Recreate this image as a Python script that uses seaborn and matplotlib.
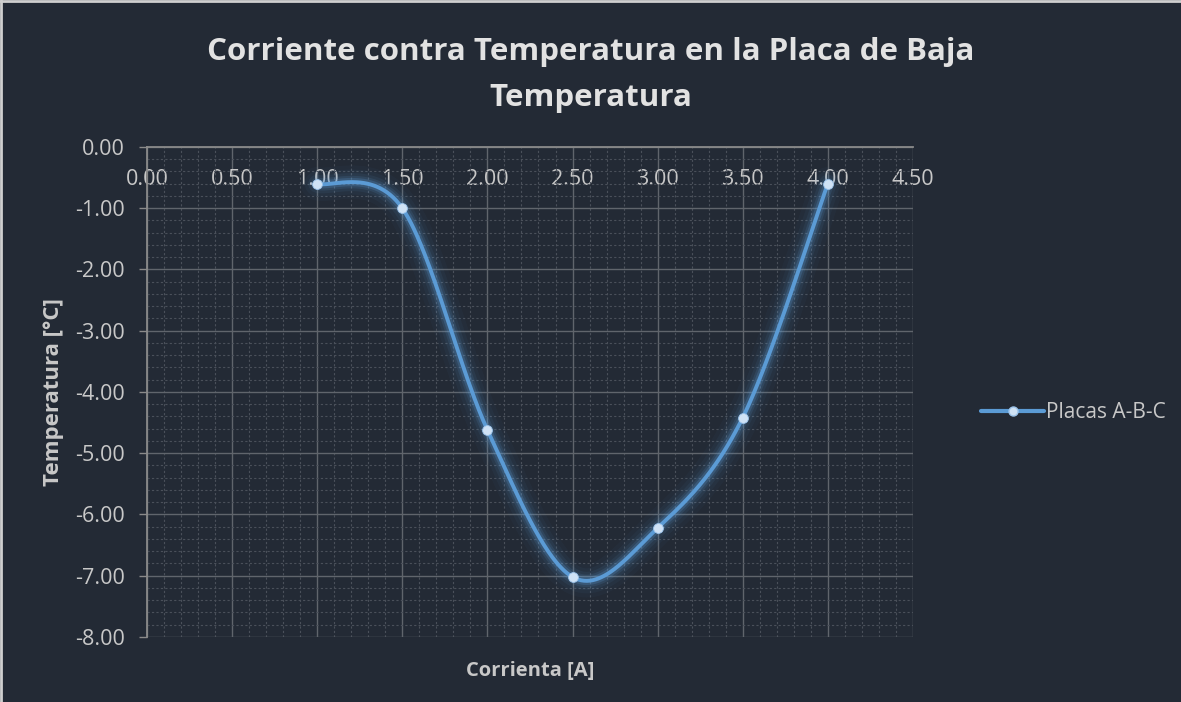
import numpy as np
import pandas as pd
import matplotlib.pyplot as plt
from matplotlib.lines import Line2D
from matplotlib.ticker import MultipleLocator, FormatStrFormatter
import seaborn as sns

# datos
corriente = [1.0, 1.5, 2.0, 2.5, 3.0, 3.5, 4.0]
temperatura = [-0.60, -1.00, -4.62, -7.02, -6.22, -4.42, -0.60]
serie = 'Placas A-B-C'

titulo = 'Corriente contra Temperatura en la Placa de Baja\nTemperatura'
xlabel = 'Corrienta [A]'
ylabel = 'Temperatura [°C]'

bg = '#232a35'
txt = '#c8c8c8'
azul = '#5b9bd5'

sns.set_theme(style='dark', rc={'axes.facecolor': bg, 'figure.facecolor': bg})
plt.rcParams['font.family'] = ['Open Sans', 'DejaVu Sans']


def suavizar(x, y, n=60):
    # curva suave tipo Excel (Catmull-Rom en Bezier)
    p = np.column_stack([x, y]).astype(float)
    pts = []
    for i in range(len(p) - 1):
        p0 = p[i - 1] if i > 0 else p[i]
        p1, p2 = p[i], p[i + 1]
        p3 = p[i + 2] if i + 2 < len(p) else p[i + 1]
        c1 = p1 + (p2 - p0) / 6
        c2 = p2 - (p3 - p1) / 6
        t = np.linspace(0, 1, n)[:, None]
        b = (1 - t) ** 3 * p1 + 3 * (1 - t) ** 2 * t * c1 + 3 * (1 - t) * t ** 2 * c2 + t ** 3 * p2
        pts.append(b if i == 0 else b[1:])
    b = np.vstack(pts)
    return pd.DataFrame({'x': b[:, 0], 'y': b[:, 1]})


df = pd.DataFrame({'corriente': corriente, 'temperatura': temperatura})
curva = suavizar(corriente, temperatura)

fig = plt.figure(figsize=(11.81, 7.02), dpi=100)
ax = fig.add_axes([0.1245, 0.0926, 0.6485, 0.698])

# brillo alrededor de la línea
for lw, a in [(24, 0.035), (18, 0.05), (13, 0.08), (9, 0.13), (6, 0.22)]:
    ax.plot(curva['x'], curva['y'], color=azul, lw=lw, alpha=a, solid_capstyle='round', zorder=3)
sns.lineplot(data=curva, x='x', y='y', color=azul, linewidth=2.8, sort=False, ax=ax, zorder=4)
sns.scatterplot(data=df, x='corriente', y='temperatura', color='#cfe2f5', edgecolor='#9cc3ea',
                s=50, linewidth=0.6, ax=ax, zorder=5)

ax.set_xlim(0, 4.5)
ax.set_ylim(-8, 0)
ax.xaxis.set_major_locator(MultipleLocator(0.5))
ax.xaxis.set_minor_locator(MultipleLocator(0.1))
ax.yaxis.set_major_locator(MultipleLocator(1))
ax.yaxis.set_minor_locator(MultipleLocator(0.2))
ax.xaxis.set_major_formatter(FormatStrFormatter('%.2f'))
ax.yaxis.set_major_formatter(FormatStrFormatter('%.2f'))

ax.grid(which='major', color='#60656c', linewidth=1.0, linestyle='-')
ax.grid(which='minor', color='#4a505a', linewidth=0.8, linestyle=(0, (2, 2)))
ax.set_axisbelow(True)

# eje x cruza en y = 0 (arriba)
ax.spines['bottom'].set_position(('data', 0))
for s in ['top', 'right']:
    ax.spines[s].set_visible(False)
ax.spines['bottom'].set_color('#8a8a8a')
ax.spines['left'].set_color('#8a8a8a')
ax.spines['bottom'].set_linewidth(1.3)
ax.spines['left'].set_linewidth(1.3)

ax.tick_params(axis='x', which='major', direction='in', length=0, pad=16, labelsize=15.5, colors=txt)
ax.tick_params(axis='y', which='major', direction='out', length=6, width=1, color='#8a8a8a',
               pad=10, labelsize=15.5, labelcolor=txt, left=True)
ax.tick_params(which='minor', length=0)

ax.set_xlabel(xlabel, fontsize=14.5, fontweight='bold', color=txt)
ax.xaxis.set_label_coords(0.5, -0.05)
ax.set_ylabel(ylabel, fontsize=16, fontweight='bold', color=txt, labelpad=8)

fig.suptitle(titulo, x=0.5, y=0.948, fontsize=22.5, fontweight='bold', color='#e2e2e2',
             linespacing=1.7)

h = Line2D([0], [0], color=azul, lw=3, marker='o', markersize=6.5,
           markerfacecolor='#cfe2f5', markeredgecolor='#9cc3ea')
leg = fig.legend([h], [serie], loc='center left', bbox_to_anchor=(0.815, 0.412),
                 frameon=False, fontsize=15, handlelength=3.0, handletextpad=0.1)
for t in leg.get_texts():
    t.set_color(txt)

# borde de la figura
fig.add_artist(Line2D([0, 1], [0.998, 0.998], color='#cfcfcf', lw=2, transform=fig.transFigure))
fig.add_artist(Line2D([0.001, 0.001], [0, 1], color='#cfcfcf', lw=2, transform=fig.transFigure))

plt.savefig('out.png', dpi=100, facecolor=bg)
plt.close()
